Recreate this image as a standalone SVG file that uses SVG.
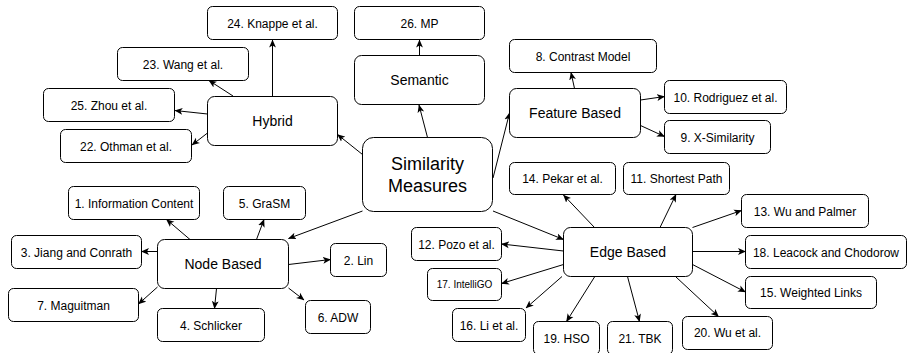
<svg xmlns="http://www.w3.org/2000/svg" width="907" height="353" viewBox="0 0 907 353">
<defs>
<marker id="arr" viewBox="0 0 8 8" markerWidth="8" markerHeight="8" refX="7.5" refY="4" orient="auto" markerUnits="userSpaceOnUse">
<path d="M0,0.6 L8,4 L0,7.4 L2,4 Z" fill="#000"/>
</marker>
<style>
rect{fill:#fff;stroke:#000;stroke-width:1}
text{font-family:"Liberation Sans",Arial,Helvetica,sans-serif;fill:#000;text-anchor:middle}
.leaf text{font-size:12px}
.cat text{font-size:14px}
.root text{font-size:18px}
.small text{font-size:10px}
#edges path{fill:none;stroke:#000;stroke-width:1;marker-end:url(#arr)}
</style>
</defs>
<rect x="0" y="0" width="907" height="353" style="stroke:none;fill:#fff"/>
<g id="edges">
<path d="M272.5,96.5 L272.5,40"/>
<path d="M233,96 L209,80.5"/>
<path d="M207.5,114 L175,110.5"/>
<path d="M207.5,133 L192,145"/>
<path d="M419.5,55.5 L419.5,40"/>
<path d="M427.5,137.5 L419,105"/>
<path d="M362.5,154.5 L337.5,134.5"/>
<path d="M493,178 L509.5,113"/>
<path d="M362.5,211 L288.5,238.5"/>
<path d="M493,211 L563.5,239.5"/>
<path d="M574.5,88.5 L571,72.5"/>
<path d="M640.5,100 L664.5,96.5"/>
<path d="M640.5,125.5 L664.5,136.5"/>
<path d="M190,239.5 L166.5,219.5"/>
<path d="M256.5,239.5 L264,219.5"/>
<path d="M157.5,251.5 L141.5,251.5"/>
<path d="M157.5,287 L138.5,304"/>
<path d="M216.5,288.5 L214.5,308.5"/>
<path d="M288.5,264.5 L330.5,259.5"/>
<path d="M288.5,288 L304,300"/>
<path d="M594.5,227.5 L563.5,195"/>
<path d="M660,227.5 L676,194.5"/>
<path d="M692.5,227.5 L741.5,210.5"/>
<path d="M692.5,251.5 L745.5,251.5"/>
<path d="M692.5,264.5 L745.5,292"/>
<path d="M676,277 L718.5,316.5"/>
<path d="M627.5,276.5 L639.5,321.5"/>
<path d="M594.5,277 L566.5,321.5"/>
<path d="M562,276.5 L526,308"/>
<path d="M563.5,264.5 L501.5,283.5"/>
<path d="M563.5,251 L501.5,244"/>
</g>
<g id="root" class="root"><rect x="362.5" y="137.5" width="130" height="74" rx="11"/><text x="427.5" y="170">Similarity</text><text x="427.5" y="191.5">Measures</text></g>
<g id="hybrid" class="cat"><rect x="207.5" y="96.5" width="130" height="49" rx="7"/><text x="272.5" y="126">Hybrid</text></g>
<g id="semantic" class="cat"><rect x="354.5" y="55.5" width="130" height="49" rx="7"/><text x="419.5" y="85">Semantic</text></g>
<g id="feature" class="cat"><rect x="509.5" y="88.5" width="131" height="49" rx="7"/><text x="575" y="118">Feature Based</text></g>
<g id="node" class="cat"><rect x="157.5" y="239.5" width="131" height="49" rx="7"/><text x="223" y="269">Node Based</text></g>
<g id="edge" class="cat"><rect x="563.5" y="227.5" width="129" height="49" rx="7"/><text x="628" y="257">Edge Based</text></g>
<g id="n24" class="leaf"><rect x="207.5" y="6.5" width="130" height="33" rx="5"/><text x="272.5" y="27.5">24. Knappe et al.</text></g>
<g id="n23" class="leaf"><rect x="117.5" y="47.5" width="131" height="33" rx="5"/><text x="183" y="68.5">23. Wang et al.</text></g>
<g id="n25" class="leaf"><rect x="43.5" y="88.5" width="131" height="33" rx="5"/><text x="109" y="109.5">25. Zhou et al.</text></g>
<g id="n22" class="leaf"><rect x="60.5" y="129.5" width="131" height="33" rx="5"/><text x="126" y="150.5">22. Othman et al.</text></g>
<g id="n26" class="leaf"><rect x="354.5" y="6.5" width="130" height="33" rx="5"/><text x="419.5" y="27.5">26. MP</text></g>
<g id="n8" class="leaf"><rect x="509.5" y="39.5" width="147" height="33" rx="5"/><text x="583" y="60.5">8. Contrast Model</text></g>
<g id="n10" class="leaf"><rect x="664.5" y="80.5" width="122" height="33" rx="5"/><text x="725.5" y="101.5">10. Rodriguez et al.</text></g>
<g id="n9" class="leaf"><rect x="664.5" y="120.5" width="106" height="33" rx="5"/><text x="717.5" y="141.5">9. X-Similarity</text></g>
<g id="n14" class="leaf"><rect x="509.5" y="162.5" width="106" height="32" rx="5"/><text x="562.5" y="183">14. Pekar et al.</text></g>
<g id="n11" class="leaf"><rect x="623.5" y="162.5" width="106" height="32" rx="5"/><text x="676.5" y="183">11. Shortest Path</text></g>
<g id="n1" class="leaf"><rect x="68.5" y="186.5" width="131" height="33" rx="5"/><text x="134" y="207.5">1. Information Content</text></g>
<g id="n5" class="leaf"><rect x="223.5" y="186.5" width="82" height="33" rx="5"/><text x="264.5" y="207.5">5. GraSM</text></g>
<g id="n3" class="leaf"><rect x="11.5" y="235.5" width="130" height="33" rx="5"/><text x="76.5" y="256.5">3. Jiang and Conrath</text></g>
<g id="n7" class="leaf"><rect x="8.5" y="288.5" width="130" height="33" rx="5"/><text x="73.5" y="309.5">7. Maguitman</text></g>
<g id="n4" class="leaf"><rect x="157.5" y="308.5" width="107" height="33" rx="5"/><text x="211" y="329.5">4. Schlicker</text></g>
<g id="n2" class="leaf"><rect x="330.5" y="243.5" width="56" height="33" rx="5"/><text x="358.5" y="264.5">2. Lin</text></g>
<g id="n6" class="leaf"><rect x="305.5" y="300.5" width="65" height="33" rx="5"/><text x="338" y="321.5">6. ADW</text></g>
<g id="n12" class="leaf"><rect x="411.5" y="227.5" width="90" height="33" rx="5"/><text x="456.5" y="248.5">12. Pozo et al.</text></g>
<g id="n17" class="leaf small"><rect x="427.5" y="268.5" width="74" height="32" rx="5"/><text x="464.5" y="288">17. IntelliGO</text></g>
<g id="n16" class="leaf"><rect x="452.5" y="308.5" width="73" height="33" rx="5"/><text x="489" y="329.5">16. Li et al.</text></g>
<g id="n19" class="leaf"><rect x="533.5" y="321.5" width="66" height="33" rx="5"/><text x="566.5" y="342.5">19. HSO</text></g>
<g id="n21" class="leaf"><rect x="607.5" y="321.5" width="65" height="33" rx="5"/><text x="640" y="342.5">21. TBK</text></g>
<g id="n20" class="leaf"><rect x="682.5" y="316.5" width="90" height="33" rx="5"/><text x="727.5" y="337">20. Wu et al.</text></g>
<g id="n13" class="leaf"><rect x="741.5" y="194.5" width="127" height="33" rx="5"/><text x="805" y="215.5">13. Wu and Palmer</text></g>
<g id="n18" class="leaf"><rect x="745.5" y="235.5" width="161" height="33" rx="5"/><text x="826" y="256.5">18. Leacock and Chodorow</text></g>
<g id="n15" class="leaf"><rect x="745.5" y="276.5" width="131" height="32" rx="5"/><text x="811" y="297">15. Weighted Links</text></g>
</svg>
